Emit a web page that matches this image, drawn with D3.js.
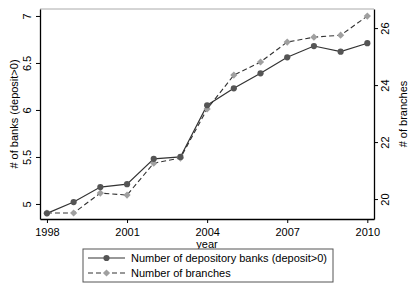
<!DOCTYPE html>
<html>
<head>
<meta charset="utf-8">
<script src="https://cdn.jsdelivr.net/npm/d3@7"></script>
<style>
  body { margin: 0; background: #fff; }
  svg { font-family: "Liberation Sans", Arial, sans-serif; }
</style>
</head>
<body>
<svg id="chart" width="415" height="299"></svg>
<script>
const years = [1998, 1999, 2000, 2001, 2002, 2003, 2004, 2005, 2006, 2007, 2008, 2009, 2010];
const banks = [4.90, 5.02, 5.18, 5.21, 5.48, 5.50, 6.05, 6.23, 6.39, 6.56, 6.68, 6.62, 6.71];
const branches = [19.51, 19.51, 20.21, 20.14, 21.26, 21.44, 23.16, 24.35, 24.81, 25.51, 25.68, 25.75, 26.42];
const xTicks = [1998, 2001, 2004, 2007, 2010];
const leftTicks = [5, 5.5, 6, 6.5, 7];
const rightTicks = [20, 22, 24, 26];

const margin = { top: 9, right: 41, bottom: 80, left: 40 };
const width = 415 - margin.left - margin.right;
const height = 299 - margin.top - margin.bottom;

const svg = d3.select("#chart");
const g = svg.append("g").attr("transform", `translate(${margin.left},${margin.top})`);

const x = d3.scaleLinear().domain([1997.74, 2010.25]).range([0, width]);
const yL = d3.scaleLinear().domain([4.84, 7.074]).range([height, 0]);
const yR = d3.scaleLinear().domain([19.30, 26.67]).range([height, 0]);

// plot region outline (top)
g.append("line").attr("x1", 0).attr("x2", width).attr("y1", 0).attr("y2", 0)
  .attr("stroke", "#aaa").attr("stroke-width", 1);

const xAxis = g.append("g").attr("transform", `translate(0,${height})`)
  .call(d3.axisBottom(x).tickValues(xTicks).tickFormat(d3.format("d")).tickSize(4).tickSizeOuter(0));
const left = g.append("g")
  .call(d3.axisLeft(yL).tickValues(leftTicks).tickFormat(d => d).tickSize(4).tickSizeOuter(0));
const right = g.append("g").attr("transform", `translate(${width},0)`)
  .call(d3.axisRight(yR).tickValues(rightTicks).tickSize(4).tickSizeOuter(0));

[xAxis, left, right].forEach(a => {
  a.select(".domain").attr("stroke", "#000").attr("stroke-width", 1.3);
  a.selectAll(".tick line").attr("stroke", "#000");
  a.selectAll("text").attr("font-size", 11).attr("fill", "#000").attr("font-family", "Liberation Sans, Arial, sans-serif");
});
xAxis.selectAll("text").attr("dy", "0.95em");
left.selectAll(".tick text")
  .attr("x", 0).attr("dy", 0).attr("text-anchor", "middle")
  .attr("transform", "translate(-9,0) rotate(-90)");
right.selectAll(".tick text")
  .attr("x", 0).attr("dy", 0).attr("text-anchor", "middle")
  .attr("transform", "translate(15,0) rotate(-90)");

// axis titles
g.append("text").attr("transform", `translate(-22,${height / 2}) rotate(-90)`)
  .attr("text-anchor", "middle").attr("font-size", 11).text("# of banks (deposit>0)");
g.append("text").attr("transform", `translate(${width + 33},${height / 2}) rotate(-90)`)
  .attr("text-anchor", "middle").attr("font-size", 11).text("# of branches");
g.append("text").attr("x", width / 2).attr("y", height + 29)
  .attr("text-anchor", "middle").attr("font-size", 11).text("year");

// series
const lineL = d3.line().x((d, i) => x(years[i])).y(d => yL(d));
const lineR = d3.line().x((d, i) => x(years[i])).y(d => yR(d));

g.append("path").datum(branches).attr("d", lineR)
  .attr("fill", "none").attr("stroke", "#333").attr("stroke-width", 1.1).attr("stroke-dasharray", "5,3");
g.append("path").datum(banks).attr("d", lineL)
  .attr("fill", "none").attr("stroke", "#333").attr("stroke-width", 1.2);

const diamond = d3.symbol().type(d3.symbolSquare).size(26);
g.selectAll(".dia").data(branches).enter().append("path")
  .attr("d", diamond)
  .attr("transform", (d, i) => `translate(${x(years[i])},${yR(d)}) rotate(45)`)
  .attr("fill", "#a0a0a0");
g.selectAll(".dot").data(banks).enter().append("circle")
  .attr("cx", (d, i) => x(years[i])).attr("cy", d => yL(d)).attr("r", 3.1)
  .attr("fill", "#555");

// legend
const leg = svg.append("g").attr("transform", "translate(83,249)");
leg.append("rect").attr("width", 250).attr("height", 33)
  .attr("fill", "#fff").attr("stroke", "#555").attr("stroke-width", 1);
const rows = [
  { label: "Number of depository banks (deposit>0)", dash: null, y: 9 },
  { label: "Number of branches", dash: "5,3", y: 24 }
];
rows.forEach((r, i) => {
  leg.append("line").attr("x1", 5).attr("x2", 42).attr("y1", r.y).attr("y2", r.y)
    .attr("stroke", "#333").attr("stroke-width", 1.1).attr("stroke-dasharray", r.dash);
  if (i === 0) {
    leg.append("circle").attr("cx", 23.5).attr("cy", r.y).attr("r", 3.1).attr("fill", "#555");
  } else {
    leg.append("path").attr("d", diamond)
      .attr("transform", `translate(23.5,${r.y}) rotate(45)`).attr("fill", "#a0a0a0");
  }
  leg.append("text").attr("x", 48).attr("y", r.y).attr("dy", "0.35em")
    .attr("font-size", 11).text(r.label);
});
</script>
</body>
</html>
